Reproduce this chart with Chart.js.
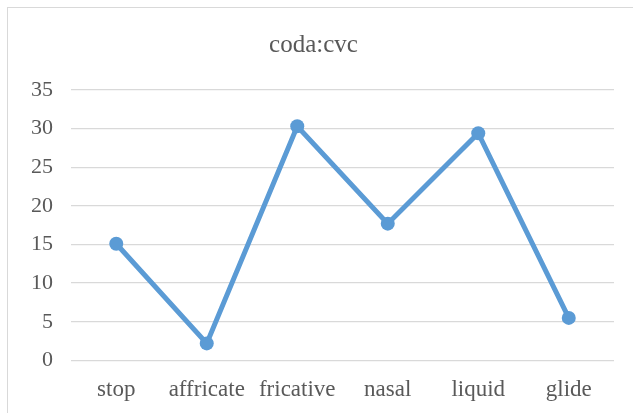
<!DOCTYPE html>
<html lang="en">
<head>
  <meta charset="UTF-8">
  <title>coda:cvc</title>
  <script src="https://cdn.jsdelivr.net/npm/chart.js"></script>
  <style>
    body {
      margin: 0;
      background: #fff;
    }
    .frame {
      position: relative;
      width: 633px;
      height: 413px;
      overflow: hidden;
    }
    .frame .border {
      position: absolute;
      left: 7px;
      top: 7px;
      width: 700px;
      height: 500px;
      border: 1px solid #d9d9d9;
    }
    canvas {
      position: absolute;
      left: 0;
      top: 0;
    }
  </style>
</head>
<body>

<div class="frame">
  <div class="border"></div>
  <canvas id="codaChart" width="633" height="413"></canvas>
</div>

<script>
  const categories = ["stop", "affricate", "fricative", "nasal", "liquid", "glide"];
  const values = [15.1, 2.2, 30.3, 17.7, 29.4, 5.5];
  const yTicks = [0, 5, 10, 15, 20, 25, 30, 35];

  const textColor = "#595959";
  const serif = "'Liberation Serif', 'Times New Roman', serif";

  new Chart(document.getElementById("codaChart"), {
    type: "line",
    data: {
      labels: categories,
      datasets: [{
        label: "coda:cvc",
        data: values,
        borderColor: "#5b9bd5",
        backgroundColor: "#5b9bd5",
        borderWidth: 5,
        pointRadius: 7,
        pointBorderWidth: 0,
        tension: 0,
        fill: false
      }]
    },
    options: {
      responsive: false,
      animation: false,
      layout: {
        padding: { left: 13, right: 19, top: 30, bottom: 1 }
      },
      scales: {
        x: {
          offset: true,
          grid: { display: false },
          border: { display: false },
          ticks: {
            color: textColor,
            font: { family: serif, size: 23 },
            padding: 8,
            maxRotation: 0,
            autoSkip: false
          }
        },
        y: {
          min: 0,
          max: 35,
          afterBuildTicks: axis => {
            axis.ticks = yTicks.map(v => ({ value: v }));
          },
          grid: { color: "#d9d9d9", lineWidth: 1.3, drawTicks: false },
          border: { display: false },
          ticks: {
            color: textColor,
            font: { family: serif, size: 22 },
            padding: 18
          }
        }
      },
      plugins: {
        legend: { display: false },
        tooltip: { enabled: false },
        title: {
          display: true,
          text: "coda:cvc",
          color: textColor,
          font: { family: serif, size: 25, weight: "normal" },
          padding: { top: 0, bottom: 30 }
        }
      }
    }
  });
</script>
</body>
</html>
